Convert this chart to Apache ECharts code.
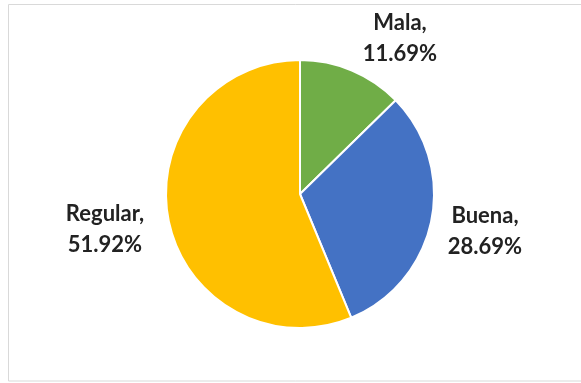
<!DOCTYPE html>
<html>
<head>
<meta charset="utf-8">
<script src="https://cdn.jsdelivr.net/npm/echarts@6/dist/echarts.min.js"></script>
<style>html,body{margin:0;padding:0;background:#fff}#c{width:581px;height:383px}</style>
</head>
<body>
<div id="c"></div>
<script>
const categories = ['Mala', 'Buena', 'Regular'];
const values = [11.69, 28.69, 51.92];
const colors = ['#70AD47', '#4472C4', '#FFC000'];
// label anchor positions (layout only)
const labelPos = [[400, 38], [485, 231], [105, 229]];

const chart = echarts.init(document.getElementById('c'), null, {renderer: 'canvas'});
chart.setOption({
  animation: false,
  graphic: [{
    type: 'rect', shape: {x: 8.5, y: 4.5, width: 600, height: 376.5},
    style: {fill: 'none', stroke: '#d9d9d9', lineWidth: 1}, silent: true
  }],
  series: [{
    type: 'pie',
    center: [300, 194],
    radius: [0, 134],
    startAngle: 90,
    clockwise: true,
    avoidLabelOverlap: false,
    itemStyle: {borderColor: '#ffffff', borderWidth: 2},
    label: {
      show: true, position: 'outside',
      formatter: p => p.name + ',\n' + p.value.toFixed(2) + '%',
      fontFamily: 'Lato', fontWeight: 'bold', fontSize: 22, lineHeight: 31,
      color: '#222222', align: 'center'
    },
    labelLine: {show: false},
    labelLayout: p => ({x: labelPos[p.dataIndex][0], y: labelPos[p.dataIndex][1], align: 'center', verticalAlign: 'middle'}),
    data: categories.map((n, i) => ({name: n, value: values[i], itemStyle: {color: colors[i]}}))
  }]
});
</script>
</body>
</html>
